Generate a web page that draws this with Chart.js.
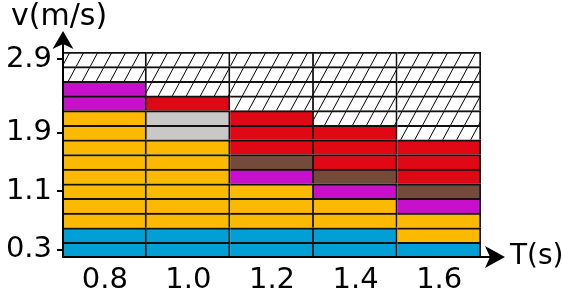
<!DOCTYPE html>
<html>
<head>
<meta charset="utf-8">
<script src="https://cdn.jsdelivr.net/npm/chart.js@4/dist/chart.umd.min.js"></script>
<style>
  html, body { margin: 0; padding: 0; background: #fff; }
  #wrap { width: 562px; height: 293px; position: relative; }
</style>
</head>
<body>
<div id="wrap"><canvas id="c" width="562" height="293"></canvas></div>
<script>
// ---- data (rows per colour in each column, bottom to top) ----
const categories  = ['0.8', '1.0', '1.2', '1.4', '1.6'];
const blueRows    = [2, 2, 2, 2, 1];
const orangeRows  = [8, 6, 3, 2, 2];
const greyRows    = [0, 2, 0, 0, 0];
const magentaRows = [2, 0, 1, 1, 1];
const brownRows   = [0, 0, 1, 1, 1];
const redRows     = [0, 1, 3, 3, 3];
const hatchRows   = [2, 3, 4, 5, 6];
const rowStep     = 0.2;
const yStart      = 0.2;
const yEnd        = 3.0;
const yTickValues = [0.3, 1.1, 1.9, 2.9];

// hatch pattern
function makeHatch() {
  const W = 14, H = 26;
  const c = document.createElement('canvas');
  c.width = W; c.height = H;
  const g = c.getContext('2d');
  g.fillStyle = '#fff';
  g.fillRect(0, 0, W, H);
  g.strokeStyle = '#000';
  g.lineWidth = 1;
  g.beginPath();
  for (let k = -1; k <= 1; k++) {
    g.moveTo(k * W, H);
    g.lineTo(k * W + W, 0);
  }
  g.stroke();
  return g.createPattern(c, 'repeat');
}
const hatch = makeHatch();

const segments = [
  { rows: blueRows,    color: '#00a0d6' },
  { rows: orangeRows,  color: '#fbb900' },
  { rows: greyRows,    color: '#c8c8c8' },
  { rows: magentaRows, color: '#c810cc' },
  { rows: brownRows,   color: '#744b3b' },
  { rows: redRows,     color: '#e00814' },
  { rows: hatchRows,   color: hatch }
];

// colour of each row of each column
const columnColors = categories.map((_, i) => {
  const list = [];
  segments.forEach(s => { for (let k = 0; k < s.rows[i]; k++) list.push(s.color); });
  return list;
});
const nRows = Math.max(...columnColors.map(l => l.length));

const datasets = [];
for (let r = 0; r < nRows; r++) {
  datasets.push({
    data: categories.map(() => [yStart + r * rowStep, yStart + (r + 1) * rowStep]),
    backgroundColor: categories.map((_, i) => columnColors[i][r] || 'rgba(0,0,0,0)'),
    borderColor: '#111',
    borderWidth: { top: 2, right: 2, bottom: 0, left: 0 },
    borderSkipped: false,
    grouped: false,
    barPercentage: 1,
    categoryPercentage: 1
  });
}

const FONT = 'DejaVu Sans';

const axesPlugin = {
  id: 'axesArrows',
  afterDraw(chart) {
    const ctx = chart.ctx;
    const a = chart.chartArea;
    ctx.save();
    ctx.strokeStyle = '#000';
    ctx.fillStyle = '#000';
    ctx.lineWidth = 2;
    // y axis
    const yTip = 31;
    ctx.beginPath();
    ctx.moveTo(a.left, a.bottom + 1);
    ctx.lineTo(a.left, yTip + 8);
    ctx.stroke();
    ctx.beginPath();
    ctx.moveTo(a.left, yTip);
    ctx.lineTo(a.left + 10.5, yTip + 18);
    ctx.lineTo(a.left, yTip + 13);
    ctx.lineTo(a.left - 10.5, yTip + 18);
    ctx.closePath();
    ctx.fill();
    // x axis
    const xTip = 505;
    ctx.beginPath();
    ctx.moveTo(a.left - 1, a.bottom);
    ctx.lineTo(xTip - 8, a.bottom);
    ctx.stroke();
    ctx.beginPath();
    ctx.moveTo(xTip, a.bottom);
    ctx.lineTo(xTip - 20, a.bottom - 11);
    ctx.lineTo(xTip - 15, a.bottom);
    ctx.lineTo(xTip - 20, a.bottom + 11);
    ctx.closePath();
    ctx.fill();
    // axis titles
    ctx.textBaseline = 'middle';
    ctx.textAlign = 'left';
    ctx.font = '30px "' + FONT + '"';
    ctx.fillText('v(m/s)', 11, 17);
    ctx.font = '28px "' + FONT + '"';
    ctx.fillText('T(s)', 510, 257);
    ctx.restore();
  }
};

new Chart(document.getElementById('c'), {
  type: 'bar',
  data: { labels: categories, datasets },
  options: {
    responsive: false,
    animation: false,
    layout: { padding: { top: 52, right: 81, left: 0, bottom: 0 } },
    plugins: { legend: { display: false }, tooltip: { enabled: false }, title: { display: false } },
    scales: {
      x: {
        stacked: true,
        grid: { display: false, drawTicks: false },
        border: { display: false },
        ticks: { color: '#000', font: { family: FONT, size: 29 }, padding: 6 },
        afterFit(s) { s.height = 36; }
      },
      y: {
        min: yStart,
        max: yEnd,
        grid: { drawOnChartArea: false, drawTicks: true, tickLength: 6, color: '#000', lineWidth: 2 },
        border: { display: false },
        ticks: { color: '#000', font: { family: FONT, size: 29 }, padding: 5 },
        afterBuildTicks(s) { s.ticks = yTickValues.map(v => ({ value: v })); },
        afterFit(s) { s.width = 63; }
      }
    }
  },
  plugins: [axesPlugin]
});
</script>
</body>
</html>
